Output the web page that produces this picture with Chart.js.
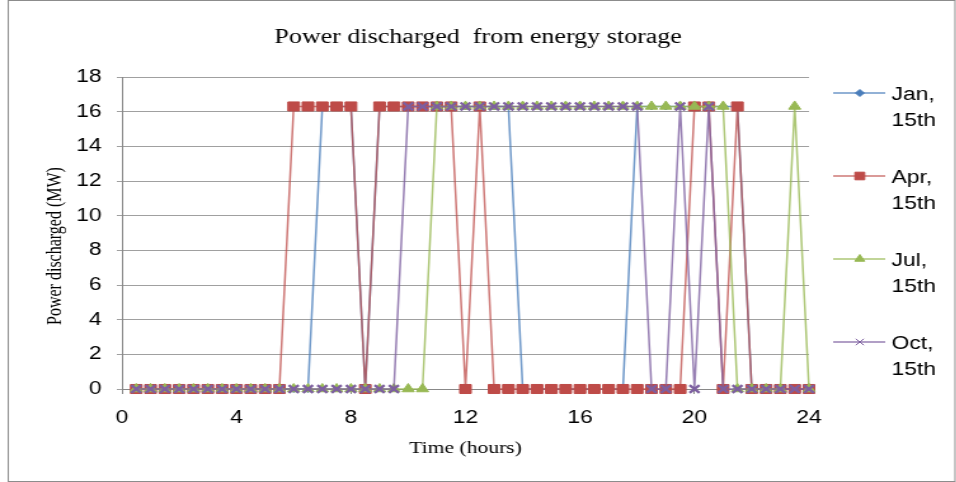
<!DOCTYPE html>
<html>
<head>
<meta charset="utf-8">
<script src="https://cdn.jsdelivr.net/npm/chart.js@4"></script>
<style>
  html, body { margin: 0; padding: 0; background: #fff; overflow: hidden; }
  #wrap { width: 956px; height: 482px; }
  /* the chart is drawn narrow and stretched sideways, like the exported sheet */
  #chart { transform: scaleX(1.27); transform-origin: 0 0; }
</style>
</head>
<body>
<div id="wrap"><canvas id="chart" width="753" height="482"></canvas></div>
<script>
// half-hour steps of the day
const hours = [0.5, 1, 1.5, 2, 2.5, 3, 3.5, 4, 4.5, 5, 5.5, 6, 6.5, 7, 7.5, 8, 8.5, 9, 9.5, 10,
    10.5, 11, 11.5, 12, 12.5, 13, 13.5, 14, 14.5, 15, 15.5, 16, 16.5, 17, 17.5, 18, 18.5, 19, 19.5, 20,
    20.5, 21, 21.5, 22, 22.5, 23, 23.5, 24];

// discharge (MW) per half hour
const jan = [0, 0, 0, 0, 0, 0, 0, 0, 0, 0, 0, 0, 0, 16.3, 16.3, 16.3, 0, 16.3, 16.3, 16.3,
    16.3, 16.3, 16.3, 16.3, 16.3, 16.3, 16.3, 0, 0, 0, 0, 0, 0, 0, 0, 16.3, 16.3, 16.3, 16.3, 16.3,
    16.3, 16.3, 16.3, 0, 0, 0, 0, 0];
const apr = [0, 0, 0, 0, 0, 0, 0, 0, 0, 0, 0, 16.3, 16.3, 16.3, 16.3, 16.3, 0, 16.3, 16.3, 16.3,
    16.3, 16.3, 16.3, 0, 16.3, 0, 0, 0, 0, 0, 0, 0, 0, 0, 0, 0, 0, 0, 0, 16.3,
    16.3, 0, 16.3, 0, 0, 0, 0, 0];
const jul = [0, 0, 0, 0, 0, 0, 0, 0, 0, 0, 0, 0, 0, 0, 0, 0, 0, 0, 0, 0,
    0, 16.3, 16.3, 16.3, 16.3, 16.3, 16.3, 16.3, 16.3, 16.3, 16.3, 16.3, 16.3, 16.3, 16.3, 16.3, 16.3, 16.3, 16.3, 16.3,
    16.3, 16.3, 0, 0, 0, 0, 16.3, 0];
const oct = [0, 0, 0, 0, 0, 0, 0, 0, 0, 0, 0, 0, 0, 0, 0, 0, 0, 0, 0, 16.3,
    16.3, 16.3, 16.3, 16.3, 16.3, 16.3, 16.3, 16.3, 16.3, 16.3, 16.3, 16.3, 16.3, 16.3, 16.3, 16.3, 0, 0, 16.3, 0,
    16.3, 0, 0, 0, 0, 0, 0, 0];

const seriesNames = [['Jan,', '15th'], ['Apr,', '15th'], ['Jul,', '15th'], ['Oct,', '15th']];

const tickFont = { family: 'Liberation Sans', size: 18 };
const serif = 'Liberation Serif';

function series(values, name, color, lineColor, style, radius, order) {
    return {
        label: name.join(' '),
        legendLines: name,
        data: hours.map((h, i) => ({ x: h, y: values[i] })),
        showLine: true,
        borderColor: lineColor,
        borderWidth: 1.5,
        pointStyle: style,
        pointRadius: radius,
        pointBackgroundColor: color,
        pointBorderColor: color,
        pointBorderWidth: style === 'crossRot' ? 2.2 : 1,
        markerColor: color,
        tension: 0,
        clip: false,
        order: order
    };
}

// legend on the right: line + marker, two-line label
const sideLegend = {
    id: 'sideLegend',
    afterDraw(chart) {
        const ctx = chart.ctx;
        chart.data.datasets.forEach((ds, i) => {
            const y = 93 + i * 83;
            ctx.save();
            ctx.strokeStyle = ds.borderColor;
            ctx.lineWidth = ds.borderWidth;
            ctx.beginPath();
            ctx.moveTo(656, y);
            ctx.lineTo(697, y);
            ctx.stroke();
            ctx.fillStyle = ds.markerColor;
            ctx.strokeStyle = ds.markerColor;
            ctx.lineWidth = ds.pointStyle === 'crossRot' ? 1 : ds.pointBorderWidth;
            Chart.helpers.drawPoint(ctx, {
                pointStyle: ds.pointStyle,
                radius: ds.pointStyle === 'rectRot' ? 3.5 : ds.pointRadius - 1,
                borderWidth: 1,
                rotation: 0
            }, 677, y);
            ctx.fillStyle = '#000';
            ctx.font = '18px "Liberation Sans"';
            ctx.textBaseline = 'alphabetic';
            ctx.textAlign = 'left';
            ctx.fillText(ds.legendLines[0], 702, y + 6.5);
            ctx.fillText(ds.legendLines[1], 702, y + 32.5);
            ctx.restore();
        });
    }
};

// vertical axis title, set a little below the middle of the axis
const yTitle = {
    id: 'yTitle',
    afterDraw(chart) {
        const ctx = chart.ctx;
        ctx.save();
        ctx.translate(44, 246);
        ctx.rotate(-Math.PI / 2);
        ctx.fillStyle = '#000';
        ctx.font = '16px "' + serif + '"';
        ctx.textAlign = 'center';
        ctx.textBaseline = 'middle';
        ctx.fillText('Power discharged (MW)', 0, 0);
        ctx.restore();
    }
};

// white page with a thin grey frame
const frame = {
    id: 'frame',
    beforeDraw(chart) {
        const ctx = chart.ctx;
        ctx.save();
        ctx.fillStyle = '#fff';
        ctx.fillRect(0, 0, chart.width, chart.height);
        ctx.strokeStyle = '#8c8c8c';
        ctx.lineWidth = 1;
        ctx.strokeRect(6.5, 0.5, chart.width - 7.5, chart.height - 1);
        ctx.restore();
    }
};

new Chart(document.getElementById('chart').getContext('2d'), {
    type: 'scatter',
    data: {
        datasets: [
            series(jan, seriesNames[0], '#4A7EBB', 'rgba(74, 126, 187, 0.8)', 'rectRot', 3.5, 4),
            series(apr, seriesNames[1], '#BE4B48', 'rgba(190, 75, 72, 0.75)', 'rect', 6.4, 3),
            series(jul, seriesNames[2], '#98B954', 'rgba(152, 185, 84, 0.8)', 'triangle', 5.5, 2),
            series(oct, seriesNames[3], '#7D5FA0', 'rgba(125, 95, 160, 0.8)', 'crossRot', 5.5, 1)
        ]
    },
    options: {
        responsive: false,
        animation: false,
        events: [],
        layout: { padding: 0 },
        plugins: {
            legend: { display: false },
            tooltip: { enabled: false },
            title: {
                display: true,
                text: 'Power discharged  from energy storage',
                color: '#000',
                font: { family: serif, size: 20.5, weight: 'normal' },
                padding: { top: 25, bottom: 27.4 }
            }
        },
        scales: {
            x: {
                type: 'linear',
                min: 0,
                max: 24,
                ticks: { stepSize: 4, color: '#000', font: tickFont, padding: 13 },
                grid: { drawOnChartArea: false, drawTicks: true, tickLength: 5, color: '#888' },
                border: { color: '#888' },
                title: {
                    display: true,
                    text: 'Time (hours)',
                    color: '#000',
                    font: { family: serif, size: 17 },
                    padding: { top: 0, bottom: 23 }
                },
                afterFit(scale) { scale.height = 93; }
            },
            y: {
                min: 0,
                max: 18,
                ticks: { stepSize: 2, color: '#000', font: tickFont, padding: 12 },
                grid: { color: '#a0a0a0', tickLength: 4 },
                border: { color: '#888' },
                afterFit(scale) { scale.width = 96; }
            },
            legendSpace: {
                type: 'linear',
                position: 'right',
                grid: { display: false },
                ticks: { display: false },
                border: { display: false },
                afterFit(scale) { scale.width = 116; }
            }
        }
    },
    plugins: [frame, yTitle, sideLegend]
});
</script>
</body>
</html>
